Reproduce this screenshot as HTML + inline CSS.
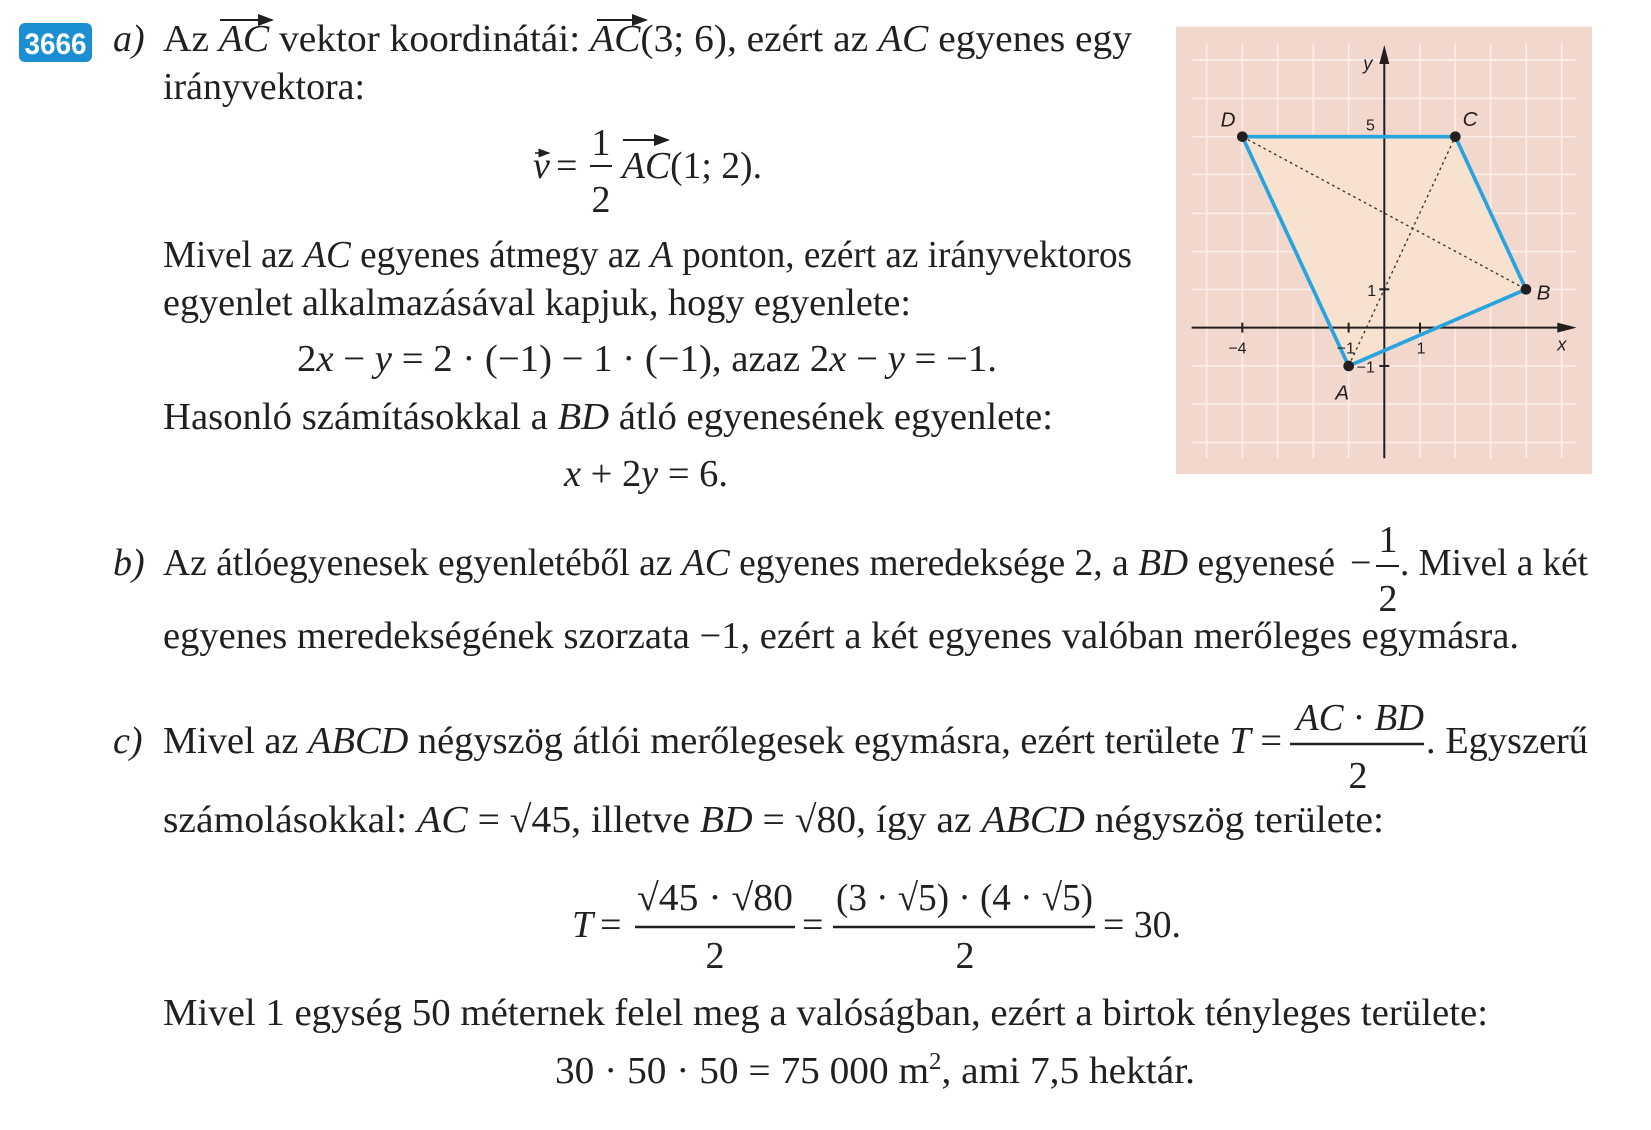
<!DOCTYPE html>
<html><head><meta charset="utf-8"><style>
html,body{margin:0;padding:0;background:#fff}
svg{display:block}
text{font-family:"Liberation Serif",serif;font-size:38px;fill:#231f20}
.i{font-style:italic}
svg text.gl{font-family:"Liberation Sans",sans-serif;font-style:italic;font-size:62px}
svg text.gn{font-family:"Liberation Sans",sans-serif;font-size:48px}
</style></head><body>
<svg width="1651" height="1130" viewBox="0 0 1651 1130" xmlns="http://www.w3.org/2000/svg">
<defs><marker id="ar" markerWidth="8" markerHeight="6" refX="7" refY="3" orient="auto"><path d="M0,0 L8,3 L0,6 z" fill="#231f20"/></marker></defs>
<!-- badge -->
<rect x="19" y="23" width="73" height="39" rx="6" fill="#1b8fd2"/>
<text x="55.5" y="54" text-anchor="middle" style="font-family:'Liberation Sans',sans-serif;font-weight:bold;font-size:30px;fill:#fff" textLength="62" lengthAdjust="spacingAndGlyphs">3666</text>

<!-- a) -->
<text x="113" y="51" class="i">a)</text>
<text x="163" y="51" textLength="969" lengthAdjust="spacingAndGlyphs">Az <tspan class="i">AC</tspan>  vektor koordinátái: <tspan class="i">AC</tspan>(3; 6), ezért az <tspan class="i">AC</tspan> egyenes egy</text>
<line x1="220" y1="20" x2="272" y2="20" stroke="#231f20" stroke-width="2" marker-end="url(#ar)"/>
<line x1="597" y1="20" x2="646" y2="20" stroke="#231f20" stroke-width="2" marker-end="url(#ar)"/>
<text x="163" y="99" textLength="202" lengthAdjust="spacingAndGlyphs">irányvektora:</text>

<text x="533" y="178" class="i">v</text>
<line x1="535" y1="153" x2="549" y2="153" stroke="#231f20" stroke-width="1.5" marker-end="url(#ar)"/>
<text x="556" y="178">=</text>
<text x="601" y="155" text-anchor="middle">1</text>
<line x1="590" y1="166" x2="612" y2="166" stroke="#231f20" stroke-width="2"/>
<text x="601" y="212" text-anchor="middle">2</text>
<text x="622" y="178" textLength="140" lengthAdjust="spacingAndGlyphs"><tspan class="i">AC</tspan>(1; 2).</text>
<line x1="623" y1="140" x2="668" y2="140" stroke="#231f20" stroke-width="2" marker-end="url(#ar)"/>

<text x="163" y="267" textLength="969" lengthAdjust="spacingAndGlyphs">Mivel az <tspan class="i">AC</tspan> egyenes átmegy az <tspan class="i">A</tspan> ponton, ezért az irányvektoros</text>
<text x="163" y="315" textLength="748" lengthAdjust="spacingAndGlyphs">egyenlet alkalmazásával kapjuk, hogy egyenlete:</text>
<text x="297" y="371" textLength="700" lengthAdjust="spacingAndGlyphs">2<tspan class="i">x</tspan> − <tspan class="i">y</tspan> = 2 · (−1) − 1 · (−1),   azaz   2<tspan class="i">x</tspan> − <tspan class="i">y</tspan> = −1.</text>
<text x="163" y="429" textLength="890" lengthAdjust="spacingAndGlyphs">Hasonló számításokkal a <tspan class="i">BD</tspan> átló egyenesének egyenlete:</text>
<text x="564" y="486" textLength="164" lengthAdjust="spacingAndGlyphs"><tspan class="i">x</tspan> + 2<tspan class="i">y</tspan> = 6.</text>

<!-- b) -->
<text x="113" y="575" class="i">b)</text>
<text x="163" y="575" textLength="1172" lengthAdjust="spacingAndGlyphs">Az átlóegyenesek egyenletéből az <tspan class="i">AC</tspan> egyenes meredeksége 2, a <tspan class="i">BD</tspan> egyenesé</text>
<text x="1350" y="575">−</text>
<text x="1388" y="552" text-anchor="middle">1</text>
<line x1="1376" y1="566" x2="1399" y2="566" stroke="#231f20" stroke-width="2"/>
<text x="1388" y="611" text-anchor="middle">2</text>
<text x="1400" y="575" textLength="188" lengthAdjust="spacingAndGlyphs">. Mivel a két</text>
<text x="163" y="648" textLength="1356" lengthAdjust="spacingAndGlyphs">egyenes meredekségének szorzata −1, ezért a két egyenes valóban merőleges egymásra.</text>

<!-- c) -->
<text x="113" y="753" class="i">c)</text>
<text x="163" y="753" textLength="1119" lengthAdjust="spacingAndGlyphs">Mivel az <tspan class="i">ABCD</tspan> négyszög átlói merőlegesek egymásra, ezért területe <tspan class="i">T</tspan> =</text>
<text x="1296" y="730" textLength="128" lengthAdjust="spacingAndGlyphs"><tspan class="i">AC</tspan> · <tspan class="i">BD</tspan></text>
<line x1="1290" y1="744" x2="1424" y2="744" stroke="#231f20" stroke-width="2.5"/>
<text x="1358" y="788" text-anchor="middle">2</text>
<text x="1426" y="753" textLength="162" lengthAdjust="spacingAndGlyphs">. Egyszerű</text>
<text x="163" y="832" textLength="1221" lengthAdjust="spacingAndGlyphs">számolásokkal: <tspan class="i">AC</tspan> = √45, illetve <tspan class="i">BD</tspan> = √80, így az <tspan class="i">ABCD</tspan> négyszög területe:</text>

<!-- T equation -->
<text x="572" y="937" class="i">T</text>
<text x="600" y="937">=</text>
<text x="637" y="910" textLength="156" lengthAdjust="spacingAndGlyphs">√45 · √80</text>
<line x1="635" y1="927" x2="795" y2="927" stroke="#231f20" stroke-width="2.5"/>
<text x="715" y="968" text-anchor="middle">2</text>
<text x="802" y="937">=</text>
<text x="836" y="910" textLength="257" lengthAdjust="spacingAndGlyphs">(3 · √5) · (4 · √5)</text>
<line x1="833" y1="927" x2="1095" y2="927" stroke="#231f20" stroke-width="2.5"/>
<text x="965" y="968" text-anchor="middle">2</text>
<text x="1103" y="937" textLength="78" lengthAdjust="spacingAndGlyphs">= 30.</text>

<text x="163" y="1025" textLength="1325" lengthAdjust="spacingAndGlyphs">Mivel 1 egység 50 méternek felel meg a valóságban, ezért a birtok tényleges területe:</text>
<text x="555" y="1083" textLength="640" lengthAdjust="spacingAndGlyphs">30 · 50 · 50 = 75 000 m<tspan dy="-14" style="font-size:24px">2</tspan><tspan dy="14">,   ami   7,5 hektár.</tspan></text>

<!-- graph -->
<g transform="translate(1150,0) scale(0.3333)">
<rect x="78" y="80" width="1248" height="1342" fill="#f2d7cd"/>
<g stroke="#fbeee9" stroke-width="5">
<line x1="125" y1="180" x2="1278" y2="180"/><line x1="125" y1="295" x2="1278" y2="295"/>
<line x1="125" y1="410" x2="1278" y2="410"/><line x1="125" y1="523" x2="1278" y2="523"/>
<line x1="125" y1="640" x2="1278" y2="640"/><line x1="125" y1="755" x2="1278" y2="755"/>
<line x1="125" y1="868" x2="1278" y2="868"/><line x1="125" y1="1098" x2="1278" y2="1098"/>
<line x1="125" y1="1212" x2="1278" y2="1212"/><line x1="125" y1="1328" x2="1278" y2="1328"/>
<line x1="170" y1="130" x2="170" y2="1375"/><line x1="277" y1="130" x2="277" y2="1375"/>
<line x1="383" y1="130" x2="383" y2="1375"/><line x1="490" y1="130" x2="490" y2="1375"/>
<line x1="596" y1="130" x2="596" y2="1375"/><line x1="810" y1="130" x2="810" y2="1375"/>
<line x1="916" y1="130" x2="916" y2="1375"/><line x1="1022" y1="130" x2="1022" y2="1375"/>
<line x1="1129" y1="130" x2="1129" y2="1375"/><line x1="1235" y1="130" x2="1235" y2="1375"/>
</g>
<polygon points="596,1098 1128,868 916,410 277,410" fill="#f7e2cf"/>
<g stroke="#3a2f2a" stroke-width="4" stroke-dasharray="8,10">
<line x1="277" y1="410" x2="1128" y2="868"/><line x1="596" y1="1098" x2="916" y2="410"/>
</g>
<g stroke="#231f20" stroke-width="6">
<line x1="125" y1="983" x2="1230" y2="983"/><line x1="703" y1="1375" x2="703" y2="180"/>
<line x1="277" y1="968" x2="277" y2="998"/><line x1="596" y1="968" x2="596" y2="998"/>
<line x1="810" y1="968" x2="810" y2="998"/>
<line x1="688" y1="410" x2="718" y2="410"/><line x1="688" y1="868" x2="718" y2="868"/><line x1="688" y1="1098" x2="718" y2="1098"/>
</g>
<polygon points="1280,983 1222,968 1222,998" fill="#231f20"/>
<polygon points="703,135 688,192 718,192" fill="#231f20"/>
<polygon points="596,1098 1128,868 916,410 277,410" fill="none" stroke="#27a3dd" stroke-width="11" stroke-linejoin="round"/>
<g fill="#231f20"><circle cx="277" cy="410" r="16"/><circle cx="916" cy="410" r="16"/><circle cx="1128" cy="868" r="16"/><circle cx="596" cy="1098" r="16"/></g>
<text class="gl" x="212" y="380">D</text><text class="gl" x="938" y="378">C</text><text class="gl" x="1160" y="898">B</text><text class="gl" x="556" y="1198">A</text>
<text class="gl" x="640" y="208" style="font-size:55px">y</text><text class="gl" x="1222" y="1052" style="font-size:55px">x</text>
<text class="gn" x="648" y="392">5</text><text class="gn" x="652" y="888">1</text><text class="gn" x="620" y="1118">−1</text>
<text class="gn" x="235" y="1060">−4</text><text class="gn" x="560" y="1060">−1</text><text class="gn" x="800" y="1060">1</text>
</g>
</svg>
</body></html>
